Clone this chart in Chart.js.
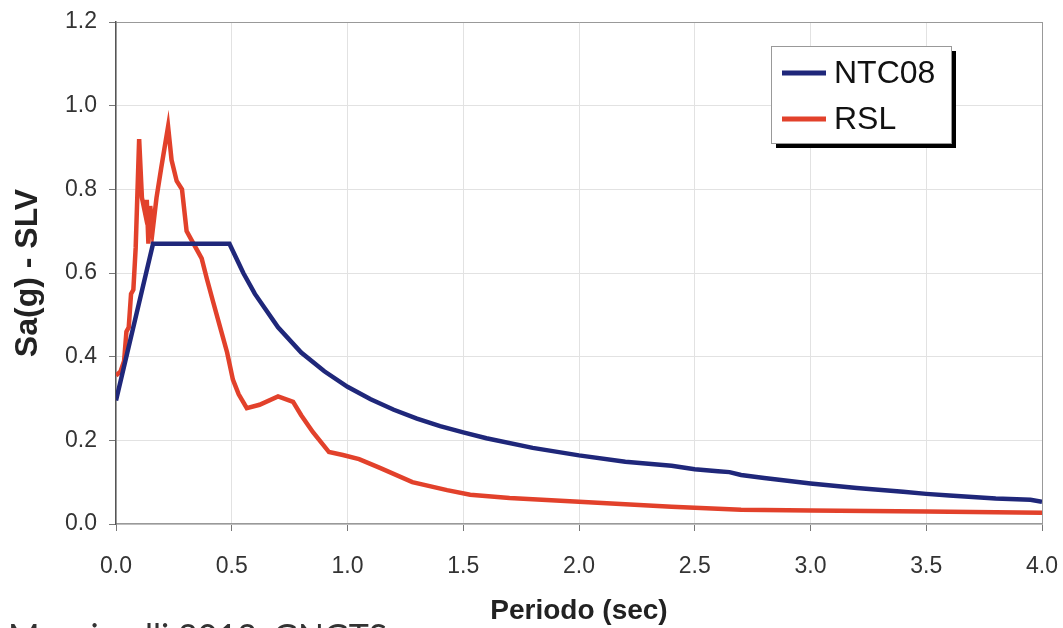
<!DOCTYPE html>
<html>
<head>
<meta charset="utf-8">
<script src="https://cdn.jsdelivr.net/npm/chart.js@4.4.1/dist/chart.umd.min.js"></script>
<style>
  body { margin: 0; background: #fff; overflow: hidden; }
  #wrap { position: relative; width: 1063px; height: 628px; overflow: hidden; }
  #source { position: absolute; left: 8px; top: 619px; font: 34px Lato, "Open Sans", sans-serif; line-height: 34px; color: #333; white-space: nowrap; }
</style>
</head>
<body>
<div id="wrap">
  <canvas id="chart" width="1063" height="628"></canvas>
  <div id="source">Mucciarelli 2012, GNGTS</div>
</div>
<script>
/* Spettri di risposta - SLV */

// NTC08 (spettro normativo)
const ntcT  = [0, 0.16, 0.49, 0.55, 0.6, 0.7, 0.8, 0.9, 1.0, 1.1, 1.2, 1.3, 1.4, 1.5, 1.6, 1.8, 2.0, 2.2, 2.3, 2.4, 2.5, 2.6, 2.65, 2.7, 2.8, 3.0, 3.2, 3.4, 3.5, 3.6, 3.8, 3.95, 4.0];
const ntcSa = [0.295, 0.67, 0.67, 0.6, 0.55, 0.47, 0.41, 0.365, 0.328, 0.298, 0.273, 0.252, 0.234, 0.219, 0.205, 0.182, 0.164, 0.149, 0.144, 0.139, 0.131, 0.126, 0.124, 0.117, 0.11, 0.097, 0.086, 0.077, 0.072, 0.068, 0.061, 0.058, 0.053];

// RSL (risposta sismica locale)
const rslT  = [0, 0.02, 0.035, 0.045, 0.055, 0.065, 0.075, 0.085, 0.1, 0.112, 0.125, 0.133, 0.14, 0.148, 0.158, 0.175, 0.195, 0.225, 0.24, 0.262, 0.285, 0.305, 0.33, 0.37, 0.393, 0.42, 0.45, 0.48, 0.505, 0.53, 0.565, 0.62, 0.7, 0.765, 0.8, 0.85, 0.92, 0.98, 1.05, 1.14, 1.28, 1.43, 1.53, 1.7, 2.0, 2.4, 2.7, 3.0, 3.5, 4.0];
const rslSa = [0.355, 0.365, 0.39, 0.46, 0.47, 0.55, 0.56, 0.66, 0.92, 0.78, 0.745, 0.775, 0.67, 0.76, 0.70, 0.78, 0.85, 0.95, 0.87, 0.82, 0.80, 0.70, 0.675, 0.635, 0.585, 0.53, 0.47, 0.41, 0.345, 0.31, 0.277, 0.285, 0.305, 0.292, 0.26, 0.22, 0.172, 0.165, 0.155, 0.134, 0.10, 0.081, 0.07, 0.062, 0.053, 0.041, 0.034, 0.032, 0.030, 0.027];

const labelsSerie = ['NTC08', 'RSL'];
const xMin = 0, xMax = 4.0, xStep = 0.5;
const yMin = 0, yMax = 1.2, yStep = 0.2;

function toPoints(ts, vals) {
    return ts.map((t, i) => ({ x: t, y: vals[i] }));
}

// legenda dentro l'area del grafico, con ombra nera
const boxLegend = {
    id: 'boxLegend',
    afterDraw(chart) {
        const ctx = chart.ctx;
        const a = chart.chartArea;
        const x = a.right - 271, y = a.top + 24, w = 180, h = 97;
        ctx.save();
        ctx.fillStyle = '#000';
        ctx.fillRect(x + 5, y + 5, w, h);
        ctx.fillStyle = '#fff';
        ctx.fillRect(x, y, w, h);
        ctx.strokeStyle = '#999';
        ctx.lineWidth = 1;
        ctx.strokeRect(x + 0.5, y + 0.5, w, h);
        ctx.font = '32px Arial, "Liberation Sans", sans-serif';
        ctx.textBaseline = 'middle';
        chart.data.datasets.forEach((ds, i) => {
            const ly = y + 27 + i * 46;
            ctx.strokeStyle = ds.borderColor;
            ctx.lineWidth = 5;
            ctx.beginPath();
            ctx.moveTo(x + 11, ly);
            ctx.lineTo(x + 55, ly);
            ctx.stroke();
            ctx.fillStyle = '#111';
            ctx.fillText(ds.label, x + 63, ly + 1);
        });
        ctx.restore();
    }
};

const myChart = new Chart(document.getElementById('chart'), {
    type: 'line',
    data: {
        datasets: [
            {
                label: labelsSerie[0],
                data: toPoints(ntcT, ntcSa),
                borderColor: '#1f277a',
                borderWidth: 4.5,
                pointRadius: 0,
                tension: 0
            },
            {
                label: labelsSerie[1],
                data: toPoints(rslT, rslSa),
                borderColor: '#e2412b',
                borderWidth: 4.5,
                pointRadius: 0,
                tension: 0
            }
        ]
    },
    options: {
        responsive: false,
        animation: false,
        events: [],
        layout: { padding: { top: 22, right: 21, left: 0, bottom: 0 } },
        plugins: {
            legend: { display: false },
            tooltip: { enabled: false }
        },
        scales: {
            x: {
                type: 'linear',
                min: xMin,
                max: xMax,
                afterFit: s => { s.height = 104; s.paddingLeft = 0; s.paddingRight = 0; },
                ticks: {
                    stepSize: xStep,
                    padding: 22,
                    color: '#333',
                    font: { family: 'Arial, "Liberation Sans", sans-serif', size: 23 },
                    callback: v => v.toFixed(1)
                },
                grid: {
                    color: c => (c.tick && c.tick.value === xMax) ? '#999' : '#e2e2e2',
                    tickColor: '#777',
                    tickLength: 7
                },
                border: { color: '#999', width: 1.5 },
                title: {
                    display: true,
                    text: 'Periodo (sec)',
                    color: '#222',
                    padding: { top: 0, bottom: 0 },
                    font: { family: 'Arial, "Liberation Sans", sans-serif', size: 28, weight: 'bold' }
                }
            },
            y: {
                min: yMin,
                max: yMax,
                afterFit: s => { s.width = 116; s.paddingTop = 0; s.paddingBottom = 0; },
                ticks: {
                    stepSize: yStep,
                    padding: 12,
                    color: '#333',
                    font: { family: 'Arial, "Liberation Sans", sans-serif', size: 23 },
                    callback: v => v.toFixed(1)
                },
                grid: {
                    color: c => (c.tick && Math.abs(c.tick.value - yMax) < 1e-6) ? '#999' : '#e2e2e2',
                    tickColor: '#777',
                    tickLength: 7
                },
                border: { color: '#555', width: 1.5 },
                title: {
                    display: true,
                    text: 'Sa(g) - SLV',
                    color: '#222',
                    padding: { top: 9, bottom: 0 },
                    font: { family: 'Arial, "Liberation Sans", sans-serif', size: 32, weight: 'bold' }
                }
            }
        }
    },
    plugins: [boxLegend]
});
</script>
</body>
</html>
